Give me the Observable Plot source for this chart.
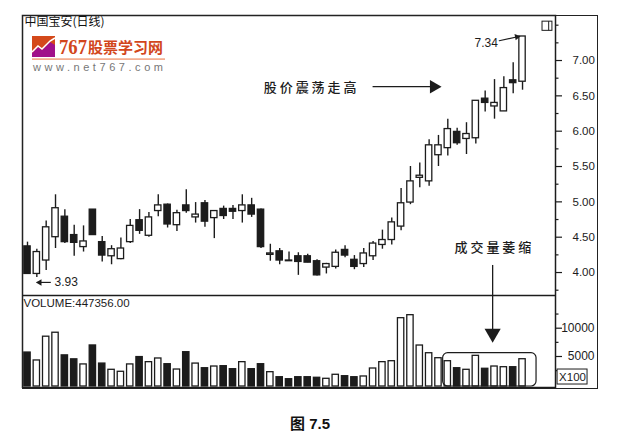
<!DOCTYPE html>
<html><head><meta charset="utf-8">
<script src="https://cdn.jsdelivr.net/npm/d3@7"></script>
<script src="https://cdn.jsdelivr.net/npm/@observablehq/plot@0.6"></script>
<style>
html,body{margin:0;padding:0;background:#fff;width:617px;height:433px;overflow:hidden}
#wrap{position:relative;width:617px;height:433px}
#outer{position:absolute;left:21.5px;top:14.5px;width:574.5px;height:372.5px;border:1.5px solid #222;pointer-events:none}
#logo{position:absolute;left:0;top:0;pointer-events:none}
#cap{position:absolute;left:290px;top:412px;font:bold 15px "Liberation Sans","Noto Sans CJK SC",sans-serif;color:#111;white-space:pre}
</style></head><body>
<div id="wrap">
<div id="charts"></div>
<svg id="logo" width="617" height="100" xmlns="http://www.w3.org/2000/svg">
<rect x="32" y="36" width="23" height="21" fill="#d4491a"/>
<polygon points="32,57 32,53 38,47 42,50 50,42 55,45 55,57" fill="#a0108a"/>
<polyline points="32,52 38,46 42,49 50,41 55,38" fill="none" stroke="#fff" stroke-width="1.5"/>
<text x="59" y="54" font-family="Liberation Serif" font-weight="bold" font-size="21" fill="#d2461c" textLength="28" lengthAdjust="spacingAndGlyphs">767</text>
<text x="88" y="53" font-family="Noto Sans CJK SC" font-weight="bold" font-size="15" fill="#d2461c" textLength="75">股票学习网</text>
<rect x="32" y="58.3" width="133" height="1.6" fill="#f2a585"/>
<text x="33" y="71" font-family="Liberation Sans" font-size="11" fill="#777" textLength="130">www.net767.com</text>
</svg>
<div id="outer"></div>
<div id="cap">图 7.5</div>
</div>
<script>
const high = [4.43,4.33,4.73,5.10,4.89,4.67,4.66,4.89,4.51,4.38,4.49,4.75,4.89,4.85,5.10,4.97,4.88,5.17,4.99,5.02,4.87,4.94,4.95,5.10,5.05,4.90,4.40,4.34,4.29,4.28,4.26,4.18,4.13,4.32,4.38,4.24,4.34,4.44,4.60,4.77,5.19,5.50,5.55,5.88,5.94,6.17,6.04,6.12,6.43,6.57,6.73,6.77,6.97,7.34];
const top_ = [4.37,4.29,4.64,4.91,4.79,4.53,4.44,4.89,4.43,4.33,4.34,4.66,4.74,4.78,4.95,4.96,4.84,4.95,4.82,4.98,4.87,4.90,4.90,4.95,4.95,4.89,4.27,4.30,4.17,4.23,4.23,4.16,4.12,4.28,4.32,4.18,4.27,4.41,4.46,4.71,4.98,5.29,5.37,5.80,5.80,6.03,5.99,5.96,6.43,6.46,6.40,6.61,6.72,7.34];
const bottom = [3.98,3.98,4.17,4.50,4.43,4.42,4.36,4.53,4.24,4.23,4.19,4.43,4.59,4.52,4.87,4.68,4.67,4.87,4.78,4.72,4.77,4.80,4.86,4.87,4.82,4.36,4.25,4.17,4.16,4.15,4.14,3.96,4.07,4.08,4.24,4.08,4.12,4.23,4.39,4.46,4.65,4.99,5.34,5.29,5.66,5.76,5.83,5.89,5.90,6.40,6.35,6.28,6.68,6.70];
const low = [3.98,3.93,4.03,4.34,4.41,4.23,4.29,4.53,4.15,4.11,4.18,4.41,4.54,4.50,4.79,4.63,4.58,4.84,4.70,4.64,4.48,4.75,4.75,4.70,4.78,4.34,4.16,4.11,4.16,3.96,4.14,3.95,3.98,4.05,4.21,4.04,4.07,4.17,4.33,4.39,4.59,4.96,5.20,5.22,5.50,5.65,5.80,5.67,5.82,6.27,6.17,6.28,6.53,6.58];
const volume = [5700,4300,8500,9200,5200,4500,3600,6950,3750,2650,2300,3600,4900,4000,4650,3640,2700,5760,3750,2930,3230,3290,2760,4000,2760,3640,2230,1340,990,1340,1340,1240,1060,1770,1520,1340,1470,2880,4000,4170,11770,12300,6940,5580,4700,4170,2930,2650,5120,2830,3230,3110,3110,4520];
// 1 = hollow (rising) session, 0 = solid (falling) session
const hollow = [0,1,1,1,0,0,1,0,0,1,1,1,0,1,1,0,1,0,1,0,1,0,0,1,0,0,1,0,0,0,0,0,1,1,0,0,1,1,1,1,1,1,1,1,1,1,0,1,1,0,1,1,0,1];
const priceTicks = [4,4.5,5,5.5,6,6.5,7];
const priceMinorTicks = [3.75,4.25,4.75,5.25,5.75,6.25,6.75,7.25,7.5];
const volumeTicks = [5000,10000];
const volumeMinorTicks = [2500,7500,12500];
const stockTitle = "中国宝安(日线)";
const volumeTitle = "VOLUME:447356.00";
const noteRise = "股 价 震 荡 走 高";
const noteShrink = "成 交 量 萎 缩";

const ink = "#1c1c1c", LAT = "Liberation Sans", CJK = "Noto Sans CJK SC";
const sessions = high.map((h,i)=>({i:i+1,high:h,top:top_[i],bottom:bottom[i],low:low[i],volume:volume[i],hollow:hollow[i]}));
const xDomain = [0.465,57.53], half = 0.34;
const body = {x1:d=>d.i-half, x2:d=>d.i+half, fill:d=>d.hollow?"#fff":ink, stroke:ink, strokeWidth:1.3};

const pricePlot = Plot.plot({
  width:617,height:295,marginLeft:22,marginRight:62,marginTop:15,marginBottom:0,
  style:{fontFamily:LAT,background:"#fff",color:ink},
  x:{type:"linear",domain:xDomain,axis:null},
  y:{type:"linear",domain:[3.675,7.637],axis:null},
  marks:[
    Plot.frame({stroke:ink,strokeWidth:1.5}),
    Plot.axisY({anchor:"right",ticks:priceMinorTicks,tickSize:2.5,tickFormat:()=>"",label:null,stroke:ink,strokeWidth:1.2}),
    Plot.axisY({anchor:"right",ticks:priceTicks,tickSize:6,tickPadding:11,tickFormat:d3.format(".2f"),label:null,fontSize:11.5,fill:ink,stroke:ink,strokeWidth:1.2}),
    Plot.ruleX(sessions,{x:"i",y1:"low",y2:"high",stroke:ink,strokeWidth:1.4}),
    Plot.rect(sessions,{...body,y1:"bottom",y2:"top"}),
    Plot.text([stockTitle],{frameAnchor:"top-left",dx:2,dy:2,fontFamily:CJK,fontSize:12,fill:"#111"}),
    // highest and lowest price notes
    Plot.text(["3.93"],{x:3.89,y:3.87,textAnchor:"start",fontSize:12,fill:ink}),
    Plot.ruleY([3.86],{x1:2.05,x2:3.55,stroke:ink,strokeWidth:1.2}),
    Plot.dot([{x:2.3,y:3.86}],{x:"x",y:"y",symbol:"triangle",rotate:-90,r:2.4,fill:ink}),
    Plot.text(["7.34"],{x:48.86,y:7.245,textAnchor:"start",fontSize:12,fill:ink}),
    Plot.line([{x:51.5,y:7.28},{x:53.6,y:7.34}],{x:"x",y:"y",stroke:ink,strokeWidth:1.1}),
    Plot.dot([{x:53.4,y:7.335}],{x:"x",y:"y",symbol:"triangle",rotate:80,r:2.4,fill:ink}),
    // annotation: rising price
    Plot.text([noteRise],{x:26.3,y:6.61,textAnchor:"start",fontFamily:CJK,fontSize:13,fontWeight:500,fill:ink}),
    Plot.ruleY([6.63],{x1:38,x2:44.2,stroke:ink,strokeWidth:1.4}),
    Plot.dot([{x:44.5,y:6.63}],{x:"x",y:"y",symbol:"triangle",rotate:90,r:5,fill:ink}),
    // annotation: shrinking volume
    Plot.text([noteShrink],{x:46.72,y:4.35,textAnchor:"start",fontFamily:CJK,fontSize:13,fontWeight:500,fill:ink}),
    Plot.ruleX([50.8],{y1:3.675,y2:4.1,stroke:ink,strokeWidth:1.3}),
    // small window button
    Plot.rect([{}],{x1:56.14,x2:57.2,y1:7.42,y2:7.55,fill:"#fff",stroke:ink,strokeWidth:1}),
    Plot.ruleX([56.8],{y1:7.42,y2:7.55,stroke:ink,strokeWidth:1})
  ]
});

const volumePlot = Plot.plot({
  width:617,height:93,marginLeft:22,marginRight:62,marginTop:0,marginBottom:1,
  style:{fontFamily:LAT,background:"#fff",color:ink},
  x:{type:"linear",domain:xDomain,axis:null},
  y:{type:"linear",domain:[-477,15777],axis:null},
  marks:[
    Plot.frame({stroke:ink,strokeWidth:1.5}),
    Plot.axisY({anchor:"right",ticks:volumeMinorTicks,tickSize:2.5,tickFormat:()=>"",label:null,stroke:ink,strokeWidth:1.2}),
    Plot.axisY({anchor:"right",ticks:volumeTicks,tickSize:6,tickPadding:33,textAnchor:"end",tickFormat:d=>String(d),label:null,fontSize:12,fill:ink,stroke:ink,strokeWidth:1.2}),
    Plot.rect(sessions,{...body,y1:-300,y2:"volume"}),
    Plot.text([volumeTitle],{frameAnchor:"top-left",dx:1,dy:3,fontSize:11.5,fill:ink}),
    Plot.rect([{}],{x1:45.5,x2:55.5,y1:-300,y2:5600,rx:5,fill:"none",stroke:ink,strokeWidth:1.2}),
    Plot.ruleX([50.8],{y1:15777,y2:9400,stroke:ink,strokeWidth:1.3}),
    Plot.dot([{x:50.8,y:9060}],{x:"x",y:"y",symbol:"triangle",rotate:180,r:6,fill:ink}),
    Plot.rect([{}],{x1:57.75,x2:60.96,y1:50,y2:2700,fill:"#fff",stroke:ink,strokeWidth:1}),
    Plot.text(["X100"],{x:59.35,y:1350,fontSize:11.5,fill:ink})
  ]
});
document.getElementById("charts").append(pricePlot,volumePlot);
</script>
</body></html>
